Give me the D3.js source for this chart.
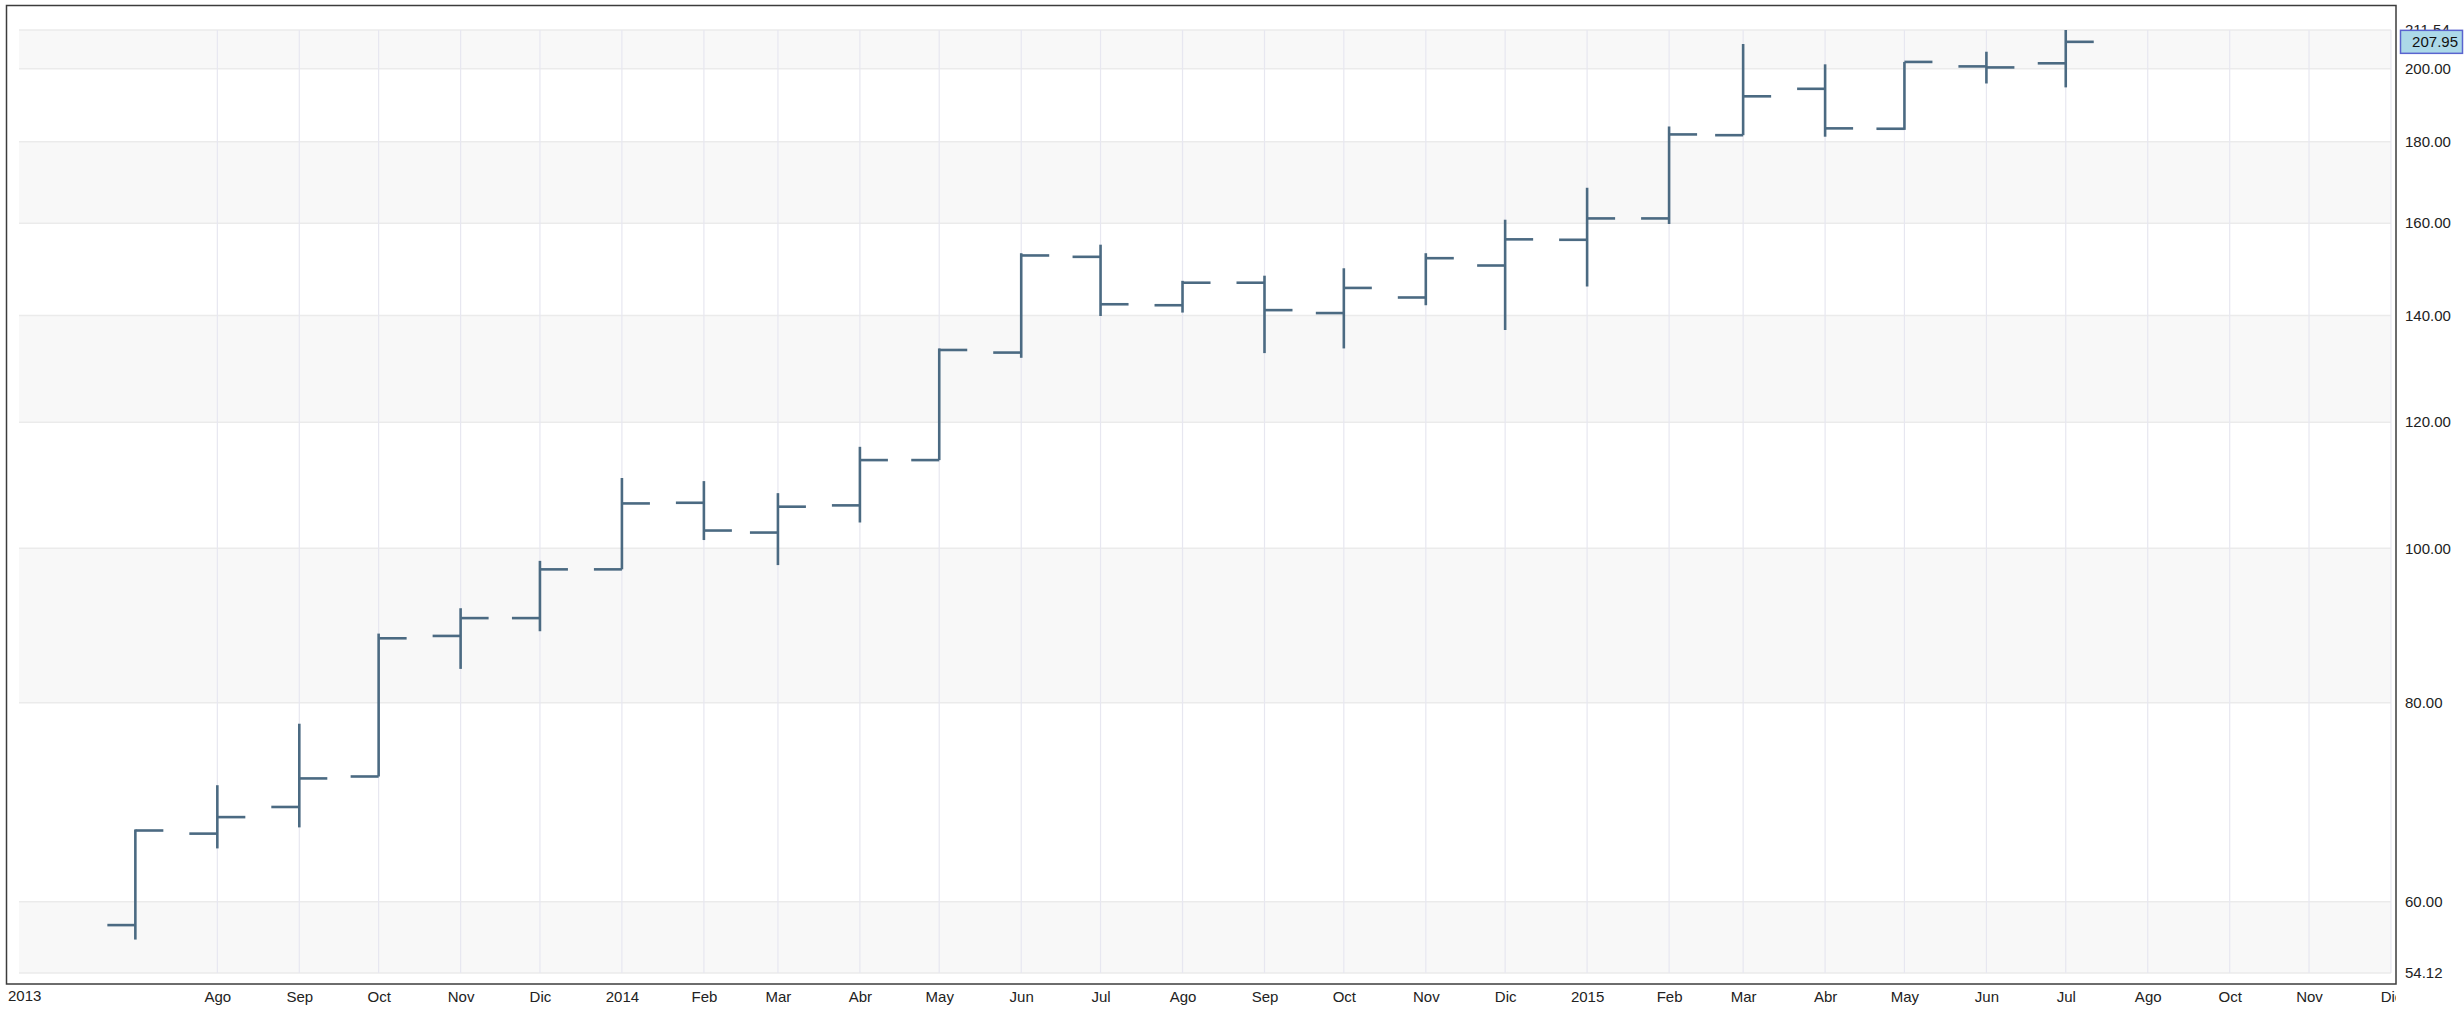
<!DOCTYPE html>
<html>
<head>
<meta charset="utf-8">
<script src="https://cdn.jsdelivr.net/npm/d3@7"></script>
<style>
  html, body { margin: 0; padding: 0; background: #ffffff; }
  svg { display: block; }
  text { font-family: "Liberation Sans", Arial, Helvetica, sans-serif; }
</style>
</head>
<body>
<svg id="chart" width="2464" height="1011"></svg>
<script>
// ---- Data (monthly OHLC) ----
const months = ["2013-07-01","2013-08-01","2013-09-01","2013-10-01","2013-11-01","2013-12-01",
  "2014-01-01","2014-02-01","2014-03-01","2014-04-01","2014-05-01","2014-06-01",
  "2014-07-01","2014-08-01","2014-09-01","2014-10-01","2014-11-01","2014-12-01",
  "2015-01-01","2015-02-01","2015-03-01","2015-04-01","2015-05-01","2015-06-01","2015-07-01"];
const openVals  = [58.0, 66.2, 68.8, 71.9, 88.1, 90.4, 97.0, 106.8, 102.3, 106.4, 113.6, 132.7,
  152.4, 142.1, 146.8, 140.5, 143.7, 150.5, 156.2, 161.1, 181.7, 194.3, 183.4, 200.7, 201.6];
const highVals  = [66.6, 71.0, 77.6, 88.4, 91.7, 98.2, 110.7, 110.2, 108.3, 115.8, 133.5, 153.2,
  155.1, 147.2, 148.3, 149.9, 153.2, 160.8, 168.4, 184.0, 207.3, 201.3, 202.0, 205.0, 211.54];
const lowVals   = [56.8, 64.8, 66.8, 71.9, 84.0, 88.7, 97.0, 101.2, 97.6, 103.8, 113.6, 131.7,
  139.9, 140.6, 132.6, 133.5, 142.1, 137.1, 146.0, 159.8, 181.7, 181.3, 183.1, 195.8, 194.7];
const closeVals = [66.5, 67.8, 71.7, 87.8, 90.4, 97.0, 106.7, 102.6, 106.2, 113.6, 133.2, 152.7,
  142.3, 146.8, 141.1, 145.7, 152.1, 156.3, 161.1, 181.9, 192.2, 183.5, 202.0, 200.4, 207.95];

// ---- Axis ticks ----
const xDomain = ["2013-05-18", "2015-11-01"];
const xTickDates = ["2013-08-01","2013-09-01","2013-10-01","2013-11-01","2013-12-01",
  "2014-01-01","2014-02-01","2014-03-01","2014-04-01","2014-05-01","2014-06-01","2014-07-01",
  "2014-08-01","2014-09-01","2014-10-01","2014-11-01","2014-12-01",
  "2015-01-01","2015-02-01","2015-03-01","2015-04-01","2015-05-01","2015-06-01","2015-07-01",
  "2015-08-01","2015-09-01","2015-10-01","2015-11-01"];
const xTickLabels = ["Ago","Sep","Oct","Nov","Dic","2014","Feb","Mar","Abr","May","Jun","Jul",
  "Ago","Sep","Oct","Nov","Dic","2015","Feb","Mar","Abr","May","Jun","Jul",
  "Ago","Oct","Nov","Dic"];
const startYearLabel = "2013";
const yDomain = [54.12, 211.54];
const yTicks = [54.12, 60, 80, 100, 120, 140, 160, 180, 200, 211.54];
const lastPrice = 207.95;

// ---- Layout ----
const frame = {x0: 6.5, y0: 5.5, x1: 2396, y1: 984};
const plot = {x0: 19, y0: 30, x1: 2391, y1: 973};
const barColor = "#4b6a82";
const tickLen = 28;

const parse = d3.utcParse("%Y-%m-%d");
const svg = d3.select("#chart");

const x = d3.scaleUtc().domain(xDomain.map(parse)).range([plot.x0, plot.x1]);
const y = d3.scaleLog().domain(yDomain).range([plot.y1, plot.y0]);

// Alternating bands
const bands = d3.pairs(yTicks).map((p, i) => ({lo: p[0], hi: p[1], shaded: i % 2 === 0}));
svg.append("g").selectAll("rect").data(bands).join("rect")
  .attr("x", plot.x0).attr("width", plot.x1 - plot.x0)
  .attr("y", d => y(d.hi)).attr("height", d => y(d.lo) - y(d.hi))
  .attr("fill", d => d.shaded ? "#f8f8f8" : "#ffffff");

// Horizontal gridlines
svg.append("g").selectAll("line").data(yTicks).join("line")
  .attr("x1", plot.x0).attr("x2", plot.x1)
  .attr("y1", d => y(d)).attr("y2", d => y(d))
  .attr("stroke", "#ebebeb").attr("stroke-width", 1.5);

// Vertical gridlines
svg.append("g").selectAll("line").data(xTickDates.map(parse)).join("line")
  .attr("x1", d => x(d)).attr("x2", d => x(d))
  .attr("y1", plot.y0).attr("y2", plot.y1)
  .attr("stroke", "#e7e7f0").attr("stroke-width", 1.2);

// OHLC bars
const bars = months.map((m, i) => ({date: parse(m), o: openVals[i], h: highVals[i], l: lowVals[i], c: closeVals[i]}));
const bg = svg.append("g").attr("stroke", barColor).attr("stroke-width", 2.6).attr("fill", "none");
bg.selectAll("line.hl").data(bars).join("line").attr("class", "hl")
  .attr("x1", d => x(d.date)).attr("x2", d => x(d.date))
  .attr("y1", d => y(d.h)).attr("y2", d => y(d.l));
bg.selectAll("line.o").data(bars).join("line").attr("class", "o")
  .attr("x1", d => x(d.date) - tickLen).attr("x2", d => x(d.date))
  .attr("y1", d => y(d.o)).attr("y2", d => y(d.o));
bg.selectAll("line.c").data(bars).join("line").attr("class", "c")
  .attr("x1", d => x(d.date)).attr("x2", d => x(d.date) + tickLen)
  .attr("y1", d => y(d.c)).attr("y2", d => y(d.c));

// Frame
svg.append("rect")
  .attr("x", frame.x0).attr("y", frame.y0)
  .attr("width", frame.x1 - frame.x0).attr("height", frame.y1 - frame.y0)
  .attr("fill", "none").attr("stroke", "#3c3c3c").attr("stroke-width", 1.5);

// X axis (clipped at frame right edge)
svg.append("clipPath").attr("id", "xclip").append("rect")
  .attr("x", 0).attr("y", frame.y1).attr("width", frame.x1).attr("height", 40);
const xAxis = d3.axisBottom(x)
  .tickValues(xTickDates.map(parse))
  .tickFormat((d, i) => xTickLabels[i])
  .tickSize(0).tickPadding(7);
const xg = svg.append("g").attr("clip-path", "url(#xclip)")
  .append("g").attr("transform", `translate(0,${frame.y1})`).call(xAxis);
xg.select(".domain").remove();
xg.selectAll("text").attr("font-size", 15).attr("fill", "#222")
  .attr("font-family", "'Liberation Sans', Arial, Helvetica, sans-serif");
svg.append("text").attr("x", 8).attr("y", frame.y1 + 12).attr("dy", "0.35em")
  .attr("font-size", 15).attr("fill", "#222").text(startYearLabel);

// Y axis on right
const yAxis = d3.axisRight(y).tickValues(yTicks).tickFormat(d3.format(".2f"))
  .tickSize(0).tickPadding(9);
const yg = svg.append("g").attr("transform", `translate(${frame.x1},0)`).call(yAxis);
yg.select(".domain").remove();
yg.selectAll("text").attr("font-size", 15).attr("fill", "#222")
  .attr("font-family", "'Liberation Sans', Arial, Helvetica, sans-serif");

// Last price marker
const ly = y(lastPrice);
svg.append("rect").attr("x", 2400.5).attr("y", ly - 11.5).attr("width", 62).attr("height", 23)
  .attr("fill", "#acd9e8").attr("stroke", "#5a64cf").attr("stroke-width", 1.5);
svg.append("text").attr("x", 2458).attr("y", ly).attr("dy", "0.35em")
  .attr("text-anchor", "end").attr("font-size", 15).attr("fill", "#111")
  .text(d3.format(".2f")(lastPrice));
</script>
</body>
</html>
